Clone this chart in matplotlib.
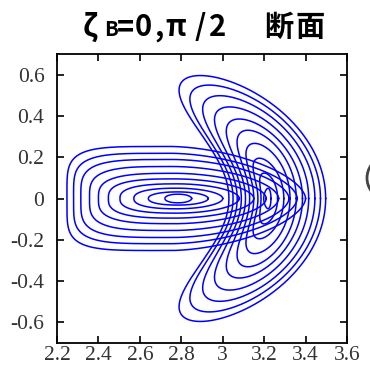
import numpy as np
import matplotlib
matplotlib.use('Agg')
import matplotlib.pyplot as plt
from matplotlib.patches import Arc

# zeta_B = 0 section: horizontally elongated surfaces, outer -> inner
sec0_left = [2.248, 2.280, 2.315, 2.357, 2.400, 2.448, 2.504, 2.571, 2.641, 2.721]
sec0_right = [3.40, 3.36, 3.32, 3.27, 3.21, 3.15, 3.08, 3.00, 2.93, 2.85]
sec0_peak = [2.75, 2.75, 2.76, 2.76, 2.77, 2.77, 2.78, 2.78, 2.785, 2.785]
sec0_half_h = [0.252, 0.219, 0.189, 0.155, 0.122, 0.095, 0.071, 0.050, 0.032, 0.021]

# zeta_B = pi/2 section: crescent surfaces, outer -> inner
sec90_outer = [3.497, 3.472, 3.445, 3.415, 3.385, 3.355, 3.325, 3.295, 3.265, 3.233]
sec90_inner = [3.030, 3.050, 3.070, 3.090, 3.110, 3.130, 3.150, 3.170, 3.185, 3.198]
sec90_tip = [2.820, 2.870, 2.930, 2.985, 3.040, 3.090, 3.130, 3.160, 3.190, 3.215]
sec90_half_h = [0.580, 0.535, 0.485, 0.432, 0.375, 0.322, 0.260, 0.190, 0.120, 0.048]

x_ticks = [2.2, 2.4, 2.6, 2.8, 3.0, 3.2, 3.4, 3.6]
x_labels = ['2.2', '2.4', '2.6', '2.8', '3', '3.2', '3.4', '3.6']
y_ticks = [0.6, 0.4, 0.2, 0.0, -0.2, -0.4, -0.6]
y_labels = ['0.6', '0.4', '0.2', '0', '-0.2', '-0.4', '-0.6']

W, H = 370, 376
LINE = '#0000ff'


def section0_curve(xl, xr, xm, h, pl, pr, n=1200):
    """Closed surface with a blunt left end and a tapered right end."""
    t = np.linspace(0, 2 * np.pi, n)
    c, s = np.cos(t), np.sin(t)
    p = np.where(c >= 0, pr, pl)
    ax_len = np.where(c >= 0, xr - xm, xm - xl)
    x = xm + ax_len * np.sign(c) * np.abs(c) ** (2 / p)
    y = h * np.sign(s) * np.abs(s) ** (2 / p)
    return x, y


def section90_curve(xo, xi, xt, h, skew=0.12, n=800):
    """Bean / crescent surface from its outer, inner and tip positions."""
    t = np.linspace(0, 2 * np.pi, n)
    a = (xo - xi) / 2
    mid = (xo + xi) / 2
    x0 = (mid + xt) / 2
    b = (mid - xt) / 2
    x = x0 + a * np.cos(t) + b * np.cos(2 * t)
    y = h * np.sin(t) + skew * h * np.sin(2 * t)
    return x, y


fig = plt.figure(figsize=(W / 100, H / 100), dpi=100)
ax = fig.add_axes([57 / W, 33 / H, 290 / W, 289 / H])

h_max = max(sec0_half_h)
for xl, xr, xm, h in zip(sec0_left, sec0_right, sec0_peak, sec0_half_h):
    frac = h / h_max
    x, y = section0_curve(xl, xr, xm, h, 2 + 2.8 * frac ** 1.2, 2 - 0.3 * frac)
    ax.plot(x, y, color=LINE, lw=1.1)

for xo, xi, xt, h in zip(sec90_outer, sec90_inner, sec90_tip, sec90_half_h):
    x, y = section90_curve(xo, xi, xt, h)
    ax.plot(x, y, color=LINE, lw=1.1)

ax.set_xlim(2.2, 3.6)
ax.set_ylim(-0.7, 0.7)
ax.set_xticks(x_ticks)
ax.set_xticklabels(x_labels)
ax.set_yticks(y_ticks)
ax.set_yticklabels(y_labels)
ax.tick_params(direction='in', length=5, width=1.2, top=True, right=True,
               labelsize=15.5, labelcolor='#333333')
ax.tick_params(axis='x', pad=2)
ax.tick_params(axis='y', pad=9)
for lab in ax.get_xticklabels() + ax.get_yticklabels():
    lab.set_family('Liberation Serif')
for sp in ax.spines.values():
    sp.set_linewidth(1.3)

# title, placed glyph by glyph to follow the wide spacing of the original
title_font = ['Noto Sans CJK JP', 'DejaVu Sans']
base = 1 - 36 / H
pieces = [('ζ', 90, 21), ('B', 111, 14.5), ('=', 125, 21), ('0', 143.5, 21),
          (',', 159, 21), ('π', 176, 21), ('/', 200, 21), ('2', 218, 21),
          ('断', 279, 21), ('面', 310.5, 21)]
for ch, xc, fs in pieces:
    fig.text(xc / W, base, ch, ha='center', va='baseline', fontsize=fs,
             fontweight='bold', family=title_font, color='black')

# edge of the neighbouring panel, cut off at the right border
fig.add_artist(Arc((389 / W, 1 - 178 / H), 44 / W, 44 / H, theta1=145, theta2=215,
                   transform=fig.transFigure, color='#444444', lw=2))

fig.savefig('out.png', dpi=100)
